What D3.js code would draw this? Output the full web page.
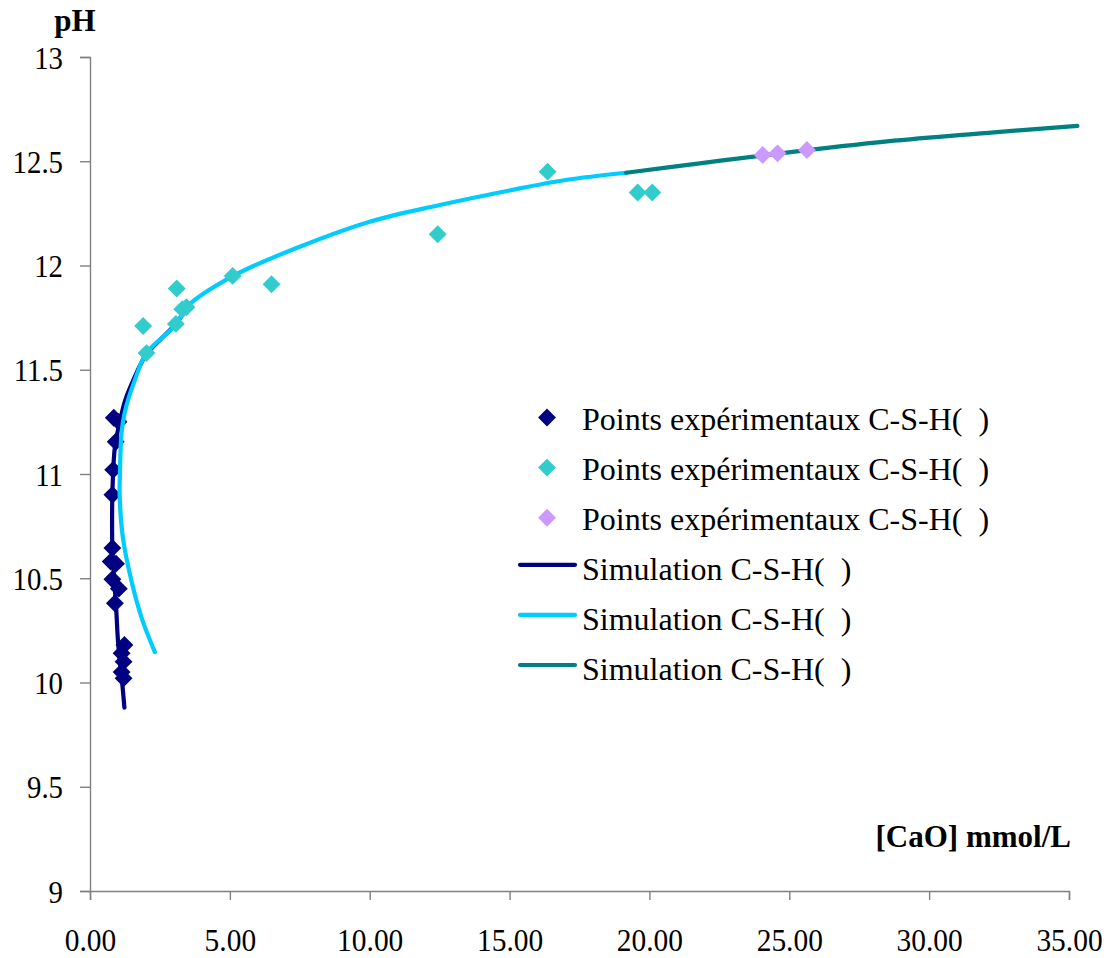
<!DOCTYPE html>
<html><head><meta charset="utf-8">
<script src="https://cdn.jsdelivr.net/npm/d3@7"></script>
<style>body{margin:0;background:#fff}svg{display:block}</style>
</head><body>
<svg id="c" width="1111" height="958"></svg>
<script>
// Experimental points [CaO mmol/L, pH]
const ptsDark = [[0.85,11.27],[1.02,11.25],[0.92,11.155],[0.83,11.02],[0.80,10.90],[0.80,10.645],[0.74,10.58],[0.93,10.57],[0.80,10.495],[1.03,10.45],[0.89,10.38],[1.23,10.18],[1.13,10.14],[1.20,10.10],[1.13,10.05],[1.20,10.02]];
const ptsCyan = [[1.90,11.71],[2.02,11.58],[3.10,11.89],[3.07,11.72],[3.30,11.79],[3.45,11.80],[5.10,11.95],[6.49,11.91],[12.43,12.15],[16.36,12.45],[19.58,12.35],[20.10,12.35]];
const ptsPurple = [[24.05,12.53],[24.58,12.538],[25.63,12.554]];
// Simulations
const simDark = [[1.23,9.88],[1.15,10.0],[1.07,10.1],[1.0,10.2],[0.93,10.37],[0.86,10.5],[0.80,10.65],[0.79,10.8],[0.81,10.95],[0.89,11.13],[1.05,11.24],[1.25,11.35],[1.55,11.45],[2.0,11.57],[3.0,11.71],[3.45,11.79]];
const simCyan = [[2.32,10.146],[1.87,10.3],[1.46,10.5],[1.17,10.7],[1.06,10.9],[1.07,11.0],[1.13,11.2],[1.25,11.3],[1.6,11.45],[2.02,11.58],[3.1,11.72],[3.45,11.80],[5.12,11.95],[7.5,12.09],[10,12.21],[12.5,12.29],[15,12.36],[17,12.41],[19.17,12.445]];
const simTeal = [[19.17,12.445],[21.8,12.49],[24.5,12.535],[28.5,12.595],[32,12.635],[35.3,12.67]];
const xTicks = [0,5,10,15,20,25,30,35];
const yTicks = [9,9.5,10,10.5,11,11.5,12,12.5,13];
const legendLabels = ["Points expérimentaux C-S-H(\u00A0\u00A0)","Points expérimentaux C-S-H(\u00A0\u00A0)","Points expérimentaux C-S-H(\u00A0\u00A0)","Simulation C-S-H(\u00A0\u00A0)","Simulation C-S-H(\u00A0\u00A0)","Simulation C-S-H(\u00A0\u00A0)"];

const FONT = "Liberation Serif";
const svg = d3.select("#c");
const x = d3.scaleLinear().domain([0,35]).range([90,1069]);
const y = d3.scaleLinear().domain([9,13]).range([891,57]);
const axisColor = "#808080";

const gx = svg.append("g").attr("transform","translate(0,891)")
  .call(d3.axisBottom(x).tickValues(xTicks).tickFormat(d3.format(".2f")).tickSize(9).tickPadding(28));
const gy = svg.append("g").attr("transform","translate(90,0)")
  .call(d3.axisLeft(y).tickValues(yTicks).tickFormat(d=>String(d)).tickSize(10).tickPadding(17));
[gx,gy].forEach(g=>{
  g.select(".domain").attr("stroke",axisColor).attr("stroke-width",1.4);
  g.selectAll(".tick line").attr("stroke",axisColor).attr("stroke-width",1.4);
  g.selectAll("text").attr("fill","#000").style("font-family",FONT).style("font-size","32px");
});
// slightly condensed numerals as in the reference
gx.selectAll(".tick text").attr("dy",null).attr("y",0)
  .attr("transform","translate(0,60) scale(0.92,1)");
gy.selectAll(".tick text").attr("dy",null).attr("x",0)
  .attr("transform","translate(-27,11) scale(0.9,1)");

const line = d3.line().x(d=>x(d[0])).y(d=>y(d[1])).curve(d3.curveCatmullRom.alpha(0.5));
function drawLine(data,color){
  svg.append("path").datum(data).attr("d",line).attr("fill","none").attr("stroke",color).attr("stroke-width",4.2).attr("stroke-linecap","round");
}
const sym = d3.symbol(d3.symbolSquare,160);
function drawPts(data,color){
  svg.append("g").selectAll("path").data(data).join("path")
    .attr("d",sym).attr("fill",color)
    .attr("transform",d=>`translate(${x(d[0])},${y(d[1])}) rotate(45)`);
}
drawLine(simDark,"#000080");
drawPts(ptsDark,"#000080");
drawLine(simCyan,"#00CCFF");
drawLine(simTeal,"#008080");
drawPts(ptsCyan,"#33CCCC");
drawPts(ptsPurple,"#CC99FF");

// Legend
const legColors = ["#000080","#33CCCC","#CC99FF","#000080","#00CCFF","#008080"];
const leg = svg.append("g");
legendLabels.forEach((t,i)=>{
  const base = 429.5 + i*50.1;
  if(i<3){
    leg.append("path").attr("d",d3.symbol(d3.symbolSquare,160)).attr("fill",legColors[i])
      .attr("transform",`translate(547,${base-12}) rotate(45)`);
  } else {
    leg.append("line").attr("x1",520).attr("x2",575).attr("y1",base-15).attr("y2",base-15)
      .attr("stroke",legColors[i]).attr("stroke-width",4.2).attr("stroke-linecap","round");
  }
  leg.append("text").attr("x",582).attr("y",base).style("font-family",FONT).style("font-size","32px").text(t);
});

svg.append("text").attr("x",75).attr("y",31).attr("text-anchor","middle").style("font-family",FONT).style("font-size","31px").attr("font-weight","bold").text("pH");
svg.append("text").attr("x",1071).attr("y",847).attr("text-anchor","end").style("font-family",FONT).style("font-size","31px").attr("font-weight","bold").text("[CaO] mmol/L");
</script>
</body></html>
